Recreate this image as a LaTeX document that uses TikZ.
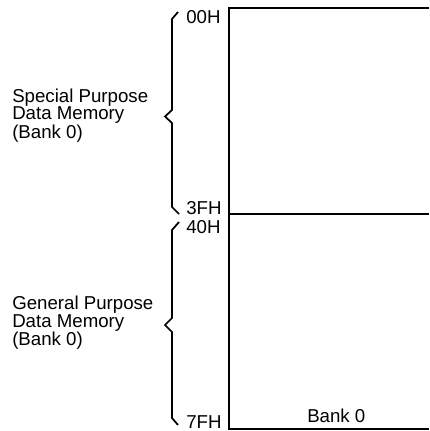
\documentclass[tikz,border=0pt]{standalone}
\usepackage{fontspec}
\setmainfont{Liberation Sans}

\begin{document}
\begin{tikzpicture}[x=0.75pt,y=-0.75pt,
 memline/.style ={-,draw=black,line width=1.5pt},
 brace/.style ={-,draw=black,line width=1.3pt},
 addr/.style ={anchor=west,inner sep=0pt,font=\fontsize{14}{14}\selectfont},
 region/.style ={anchor=west,inner sep=0pt,align=left,font=\fontsize{14}{12.8}\selectfont}
 ]
\useasboundingbox (0,0) rectangle (429,431);
%draw memory map
\draw[memline] (429,8) -- (229,8) -- (229,428.5) -- (429,428.5);
\draw[memline] (229,214) -- (429,214);
\node[addr] (bank) at (307,415.5) {Bank 0};
%draw brace of special purpose memory
\draw[brace] (178,12) -- (172,19) -- (172,110) -- (165,116.5) -- (172,123) -- (172,207) -- (179,214);
\node[region] (spd) at (12,116) {Special Purpose\\Data Memory\\(Bank 0)};
%draw brace of general purpose memory
\draw[brace] (179,222) -- (172,230) -- (172,318) -- (165,325) -- (172,332) -- (172,418) -- (178,425);
\node[region] (gpd) at (12,323) {General Purpose\\Data Memory\\(Bank 0)};
%draw addresses
\node[addr] (addr00) at (186,17.5) {00H};
\node[addr] (addr3f) at (186,208.5) {3FH};
\node[addr] (addr40) at (186,227.5) {40H};
\node[addr] (addr7f) at (186,422) {7FH};
\end{tikzpicture}
\end{document}
